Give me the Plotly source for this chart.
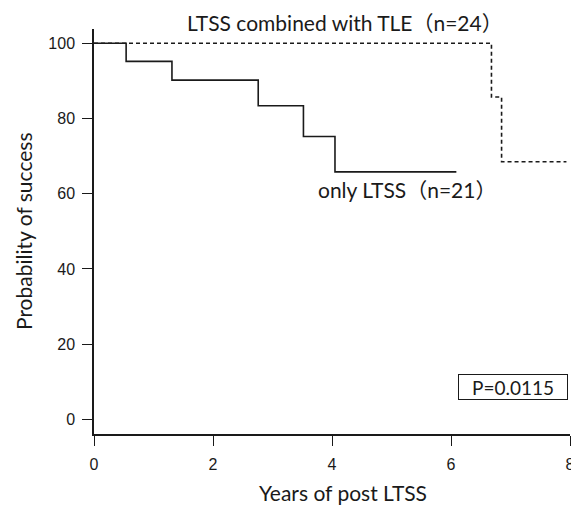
import plotly.graph_objects as go

# Kaplan-Meier step data (years, probability %)
only_ltss_x = [0, 0.54, 1.31, 2.76, 3.52, 4.05, 6.09]
only_ltss_y = [100, 95.2, 90.2, 83.4, 75.2, 65.8, 65.8]

combined_x = [0, 6.68, 6.85, 7.94]
combined_y = [100, 85.7, 68.5, 68.5]

x_ticks = [0, 2, 4, 6, 8]
y_ticks = [0, 20, 40, 60, 80, 100]

label_combined = "LTSS combined with TLE（n=24）"
label_only = "only LTSS（n=21）"
p_text = "P=0.0115"

TXT = "Lato, Noto Sans CJK JP, sans-serif"
NUM = "Liberation Sans, Arial, sans-serif"
INK = "#1a1a1a"

OFF = 8  # page body margin
L, R, T, B = 94 - OFF, 9, 29 - OFF, 72
W, H = 579 - OFF, 506 - OFF
PW, PH = W - L - R, H - T - B


def px(xp):
    return (xp - OFF - L) / PW


def py(yp):
    return (H - B - (yp - OFF)) / PH


def note(x, y, text, size, **kw):
    fig.add_annotation(x=px(x), y=py(y), xref="paper", yref="paper", text=text,
                       showarrow=False, xanchor="center", yanchor="middle",
                       font=dict(family=TXT, size=size, color=INK), **kw)


fig = go.Figure()
fig.add_trace(go.Scatter(x=only_ltss_x, y=only_ltss_y, mode="lines",
                         line=dict(shape="hv", color=INK, width=1.6),
                         showlegend=False, hoverinfo="skip"))
fig.add_trace(go.Scatter(x=combined_x, y=combined_y, mode="lines",
                         line=dict(shape="hv", color=INK, width=1.6, dash="4px,3px"),
                         showlegend=False, hoverinfo="skip"))

note(345, 22, label_combined, 21)
note(407, 190, label_only, 21)
note(513, 386.5, p_text, 19, bordercolor=INK, borderwidth=1, borderpad=2,
     width=104, height=20)
note(343, 492, "Years of post LTSS", 21)
note(23, 231, "Probability of success", 21, textangle=-90)

fig.update_layout(
    width=W, height=H,
    margin=dict(l=L, r=R, t=T, b=B),
    plot_bgcolor="white", paper_bgcolor="white",
    xaxis=dict(range=[0, 8], tickvals=x_ticks, showgrid=False, zeroline=False,
               automargin=False,
               showline=True, linecolor=INK, linewidth=1.5,
               ticks="outside", ticklen=10, tickwidth=1.3, tickcolor=INK,
               ticklabelstandoff=5,
               tickfont=dict(family=NUM, size=16, color=INK)),
    yaxis=dict(range=[-3.9, 103.8], tickvals=y_ticks, showgrid=False, zeroline=False,
               automargin=False,
               showline=True, linecolor=INK, linewidth=1.5,
               ticks="outside", ticklen=10, tickwidth=1.3, tickcolor=INK,
               ticklabelstandoff=4,
               tickfont=dict(family=NUM, size=16, color=INK)),
)

fig.write_html("out.html")
